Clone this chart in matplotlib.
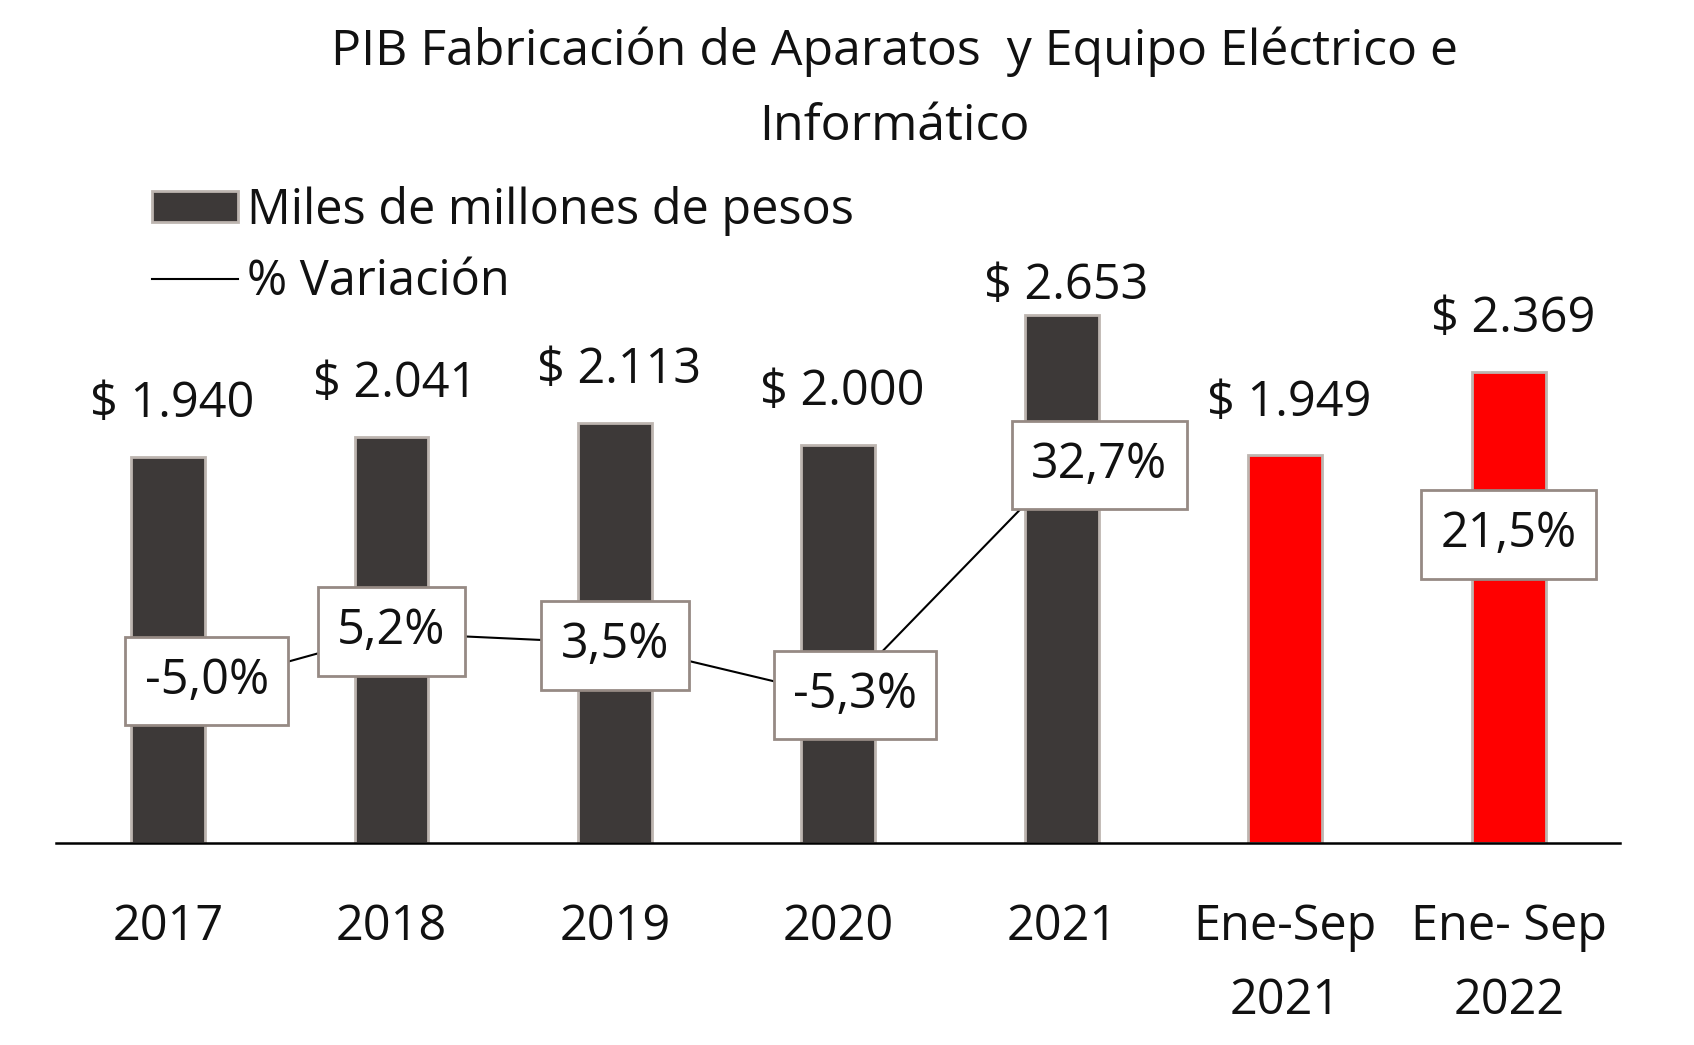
import matplotlib
matplotlib.use("Agg")
import matplotlib.pyplot as plt
import numpy as np
from matplotlib.patches import Patch
from matplotlib.lines import Line2D

plt.rcParams['font.family'] = ['Open Sans', 'DejaVu Sans']

categories = ["2017", "2018", "2019", "2020", "2021", "Ene-Sep\n2021", "Ene- Sep\n2022"]
values = [1940, 2041, 2113, 2000, 2653, 1949, 2369]
value_labels = ["$ 1.940", "$ 2.041", "$ 2.113", "$ 2.000", "$ 2.653", "$ 1.949", "$ 2.369"]
variation = [-5.0, 5.2, 3.5, -5.3, 32.7, np.nan, 21.5]
variation_labels = ["-5,0%", "5,2%", "3,5%", "-5,3%", "32,7%", "", "21,5%"]
bar_colors = ["#3d3938"] * 5 + ["#ff0000"] * 2

title = "PIB Fabricación de Aparatos  y Equipo Eléctrico e\nInformático"
legend_bar = "Miles de millones de pesos"
legend_line = "% Variación"

W, H = 1694, 1045
fig = plt.figure(figsize=(W / 100, H / 100), dpi=100)
ax = fig.add_axes([0.0332, 0.1934, 0.9234, 0.6515])
ax2 = ax.twinx()

x = np.arange(len(categories))
bars = ax.bar(x, values, width=0.33, color=bar_colors, edgecolor="#bdb5b0", linewidth=2, zorder=2)
ax.set_xlim(-0.5, len(categories) - 0.5)
ax.set_ylim(0, 3424)
ax2.set_ylim(-29.46, 83.0)

FS = 35
# value labels
val_offsets = [20, 20, 20, 20, 3, 20, 20]
for xi, v, lab, off in zip(x, values, value_labels, val_offsets):
    ax.annotate(lab, (xi, v), xytext=(3, off), textcoords="offset points",
                ha="center", va="bottom", fontsize=FS, color="#111111")

# line
ax2.plot(x, variation, color="black", linewidth=1.5, zorder=3)
lab_offsets = [(28, 10), (0, 1), (0, -1.5), (12, 1), (27, 1), (0, 0), (0, 0)]
for xi, v, lab, (dx, dy) in zip(x, variation, variation_labels, lab_offsets):
    if not lab:
        continue
    ax2.annotate(lab, (xi, v), xytext=(dx, dy), textcoords="offset points",
                 ha="center", va="center", fontsize=FS, color="#111111", zorder=5,
                 bbox=dict(boxstyle="square,pad=0.4", fc="white", ec="#968a84", lw=2))

for a in (ax, ax2):
    for s in ("top", "left", "right"):
        a.spines[s].set_visible(False)
    a.set_yticks([])
ax2.spines["bottom"].set_visible(False)
ax.spines["bottom"].set_color("black")
ax.spines["bottom"].set_linewidth(1.8)
ax.set_xticks(x)
ax.set_xticklabels(categories, fontsize=FS, color="#111111", linespacing=1.65)
ax.tick_params(axis="x", length=0, pad=43)

fig.text(0.528, 0.975, title, ha="center", va="top", fontsize=36, color="#111111", linespacing=1.7)

handles = [Patch(facecolor="#3d3938", edgecolor="#bdb5b0", linewidth=2),
           Line2D([0], [0], color="black", linewidth=1.5)]
fig.legend(handles, [legend_bar, legend_line], loc="upper left", bbox_to_anchor=(0.09, 0.822),
           frameon=False, fontsize=FS, handlelength=1.75, handleheight=0.6, handletextpad=0.2,
           labelspacing=0.45, borderaxespad=0, borderpad=0, labelcolor="#111111")

fig.savefig("out.png", dpi=100)
